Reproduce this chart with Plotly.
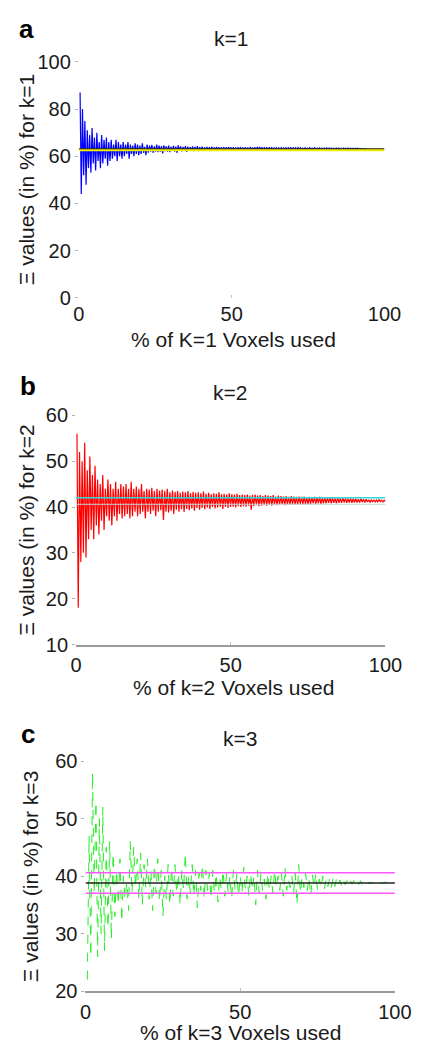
import numpy as np
import plotly.graph_objects as go

# ---------------- data ----------------
k1_values = [
    87, 44, 80, 52, 75, 48, 71, 55, 69, 53, 72, 57,
    68, 54, 70, 58, 66, 55, 69, 57, 67, 59, 68, 56,
    66, 58, 67, 59, 65, 60, 67, 58, 66, 60, 65, 59,
    66, 60, 65, 61, 66, 59, 65, 61, 64.5, 60, 65.5, 61,
    65, 60.5, 64.5, 61, 65.5, 61.5, 64, 60.5, 65, 61.5, 64.5, 62,
    64.8, 61.5, 64.2, 62, 65, 61.8, 64.5, 62, 64.3, 61.2, 64.6, 62.2,
    64.2, 62, 64.5, 61.8, 64, 62.3, 64.4, 62, 64.1, 61.5, 64.6, 62.3,
    64.2, 62.1, 64, 62.4, 64.3, 61.9, 64.1, 62.3, 63.9, 62.5, 64.2, 62.2,
    64, 62.4, 64.3, 62.2, 63.9, 62.5, 64.1, 62.3, 63.8, 62.6, 64, 62.4,
    63.9, 62.5, 64.1, 62.3, 63.8, 62.6, 64, 62.5, 63.9, 62.4, 63.8, 62.6,
    63.9, 62.6, 63.8, 62.5, 64, 62.7, 63.8, 62.6, 63.9, 62.5, 63.7, 62.7,
    63.8, 62.6, 63.9, 62.7, 63.7, 62.6, 63.8, 62.8, 63.7, 62.6, 63.9, 62.7,
    63.7, 62.8, 63.8, 62.7, 63.9, 62.8, 64, 62.7, 63.8, 62.8, 63.7, 62.9,
    63.8, 62.8, 63.7, 62.9, 63.8, 62.8, 63.6, 62.9, 63.7, 62.8, 63.6, 62.9,
    63.7, 62.9, 63.6, 62.8, 63.7, 62.9, 63.6, 63, 63.7, 62.9, 63.6, 63,
    63.6, 62.9, 63.7, 63, 63.6, 62.9, 63.5, 63, 63.6, 62.9, 63.5, 63,
    63.6, 63, 63.5, 62.9, 63.6, 63, 63.5, 63, 63.6, 63, 63.5, 63.1,
    63.5, 63, 63.6, 63.1, 63.5, 63, 63.5, 63.1, 63.4, 63, 63.5, 63.1,
    63.5, 63.1, 63.4, 63, 63.5, 63.1, 63.4, 63.1, 63.5, 63.1, 63.4, 63.1,
    63.4, 63.1, 63.4, 63.2, 63.4, 63.1, 63.3, 63.2, 63.4, 63.1, 63.3, 63.2,
]
k1_xrange = [0.4, 94]          # % of voxels spanned by the k=1 curve
k1_mean = 63.2                 # black reference
k1_ref = 62.7                  # yellow reference

k2_values = [
    56, 18, 52, 28, 50, 30, 54, 29, 48, 33, 51, 35,
    47, 33, 49, 36, 46, 34, 45, 37, 47, 35, 44, 38,
    46, 37, 45, 36, 44, 38, 45.5, 37, 44, 38.5, 45, 37.5,
    44.5, 38, 45, 38.5, 44, 37.5, 45.5, 38, 44, 39, 44.5, 38,
    44, 38.5, 45, 39, 43.5, 37.5, 44, 39, 43.8, 38.5, 44.2, 39.2,
    43.5, 38, 44, 39, 43.6, 39.3, 43.8, 37.2, 43.5, 39, 44, 38.8,
    43.2, 39.2, 43.6, 38.5, 43.3, 39.4, 43.5, 39, 43.1, 39.5, 43.4, 38.9,
    43.2, 39.6, 43.5, 39.3, 43, 39.7, 43.3, 39.2, 43.1, 39.8, 43.2, 39.4,
    43, 39.8, 43.4, 39.5, 42.9, 39.9, 43.1, 39.6, 42.8, 40, 43, 39.7,
    42.9, 39.9, 43.2, 40, 42.8, 39.6, 42.9, 40.1, 42.7, 39.8, 43, 40,
    42.8, 40.1, 42.7, 39.9, 42.9, 40.2, 42.6, 40, 42.7, 40.2, 42.6, 40.1,
    42.7, 40.3, 42.5, 39.4, 42.6, 40.2, 42.7, 40.4, 42.5, 40.2, 42.6, 40.3,
    42.4, 40.4, 42.6, 40.3, 42.5, 40.5, 42.4, 40.3, 42.6, 40.5, 42.3, 40.4,
    42.5, 40.5, 42.4, 40.6, 42.3, 40.4, 42.4, 40.6, 42.2, 40.5, 42.4, 40.6,
    42.3, 40.6, 42.2, 40.5, 42.3, 40.7, 42.2, 40.6, 42.3, 40.7, 42.1, 40.6,
    42.2, 40.7, 42.1, 40.8, 42.2, 40.7, 42.1, 40.8, 42.2, 40.7, 42.0, 40.8,
    42.1, 40.8, 42.0, 40.9, 42.1, 40.8, 42.0, 40.9, 41.9, 40.8, 42.0, 40.9,
    41.9, 40.9, 42.0, 41.0, 41.9, 40.9, 41.8, 41.0, 41.9, 40.9, 41.8, 41.0,
    41.8, 41.0, 41.7, 41.0, 41.8, 41.1, 41.7, 41.0, 41.7, 41.1, 41.6, 41.0,
    41.6, 41.1, 41.6, 41.1, 41.5, 41.1, 41.6, 41.2, 41.5, 41.1, 41.5, 41.2,
]
k2_xrange = [0.3, 100]
k2_upper = 42.0                # cyan reference
k2_lower = 40.6                # light reference

k3_values = [
    22, 47, 26, 58, 37, 53, 26, 50, 30, 52, 27, 45,
    31, 46, 29, 44, 33, 41, 35, 43, 32, 40, 36, 39,
    34, 46, 37, 45, 38, 43, 36, 44, 35, 42, 38, 43,
    36, 41, 34, 42, 37, 43, 35.5, 41, 33, 40, 36, 42,
    35, 41.5, 36.5, 42, 37, 40.5, 35, 41, 37.5, 44, 36, 40,
    37, 42, 36.5, 41, 34.5, 40.5, 37.5, 42, 36, 41, 37.5, 40.5,
    36, 41, 37, 40.5, 35.5, 40, 37.5, 41, 36.5, 40.5, 37, 40,
    36, 41, 37.5, 40.5, 36.5, 40, 37, 41.5, 37.5, 40, 36.5, 40.5,
    37.5, 40, 35, 41, 37, 40.5, 37.5, 39.5, 36, 40.5, 37.5, 40,
    37, 41, 38, 40, 37.5, 40.5, 36.5, 41.5, 37.5, 39.5, 38, 40,
    37, 40.5, 35, 42, 37, 40, 38, 40.5, 37.5, 39.8, 36.5, 40.2,
    38, 40.5, 37.5, 39.5, 38, 40, 37.8, 39.6, 38.2, 39.5, 38, 39.8,
    38.2, 39.5, 38.4, 39.3, 38.3, 39.4, 38.5, 39.2, 38.5, 39.3, 38.6, 39.2,
    38.6, 39.1, 38.5, 39.2, 38.6, 39.0, 38.7, 39.1, 38.6, 39.0, 38.7, 38.9,
    38.7, 39.0, 38.6, 38.9, 38.7, 39.0, 38.8, 38.9, 38.7, 38.9, 38.8, 38.9,
]
k3_xrange = [0.6, 100]
k3_mean = 38.8                 # black reference
k3_band = [40.6, 37.0]         # magenta references

x_ticks = [0, 50, 100]
y_ticks_a = [0, 20, 40, 60, 80, 100]
y_ticks_b = [10, 20, 30, 40, 50, 60]
y_ticks_c = [20, 30, 40, 50, 60]

panel_letters = ["a", "b", "c"]
panel_titles = ["k=1", "k=2", "k=3"]
x_titles = ["% of K=1 Voxels used", "% of k=2 Voxels used", "% of k=3 Voxels used"]
y_titles = ["Ξ values (in %) for k=1", "Ξ values (in %) for k=2", "Ξ values (in %) for k=3"]

# ---------------- figure ----------------
W, H = 428, 1055
FONT = "Liberation Sans, Arial, Helvetica, sans-serif"
TXT = "#1a1a1a"

def px_x(p):
    return p / W

def px_y(p):
    return 1 - p / H

fig = go.Figure()

def xs(vals, xr):
    return np.linspace(xr[0], xr[1], len(vals))

# panel a
fig.add_trace(go.Scatter(x=xs(k1_values, k1_xrange), y=k1_values, mode="lines",
                         line=dict(color="#0000ff", width=1.2), xaxis="x", yaxis="y"))
fig.add_trace(go.Scatter(x=[0, 100], y=[k1_ref, k1_ref], mode="lines",
                         line=dict(color="#f0f000", width=2.5), xaxis="x", yaxis="y"))
fig.add_trace(go.Scatter(x=[0, 100], y=[k1_mean, k1_mean], mode="lines",
                         line=dict(color="#202020", width=1.2), xaxis="x", yaxis="y"))

# panel b
fig.add_trace(go.Scatter(x=xs(k2_values, k2_xrange), y=k2_values, mode="lines",
                         line=dict(color="#ff0000", width=1.2), xaxis="x2", yaxis="y2"))
fig.add_trace(go.Scatter(x=[0, 100], y=[k2_lower, k2_lower], mode="lines",
                         line=dict(color="#bcd8d8", width=1), xaxis="x2", yaxis="y2"))
fig.add_trace(go.Scatter(x=[0, 100], y=[k2_upper, k2_upper], mode="lines",
                         line=dict(color="#30d8d8", width=1.5), xaxis="x2", yaxis="y2"))

# panel c
fig.add_trace(go.Scatter(x=xs(k3_values, k3_xrange), y=k3_values, mode="lines",
                         line=dict(color="#22ee22", width=1, dash="dash"), xaxis="x3", yaxis="y3"))
for v in k3_band:
    fig.add_trace(go.Scatter(x=[0, 100], y=[v, v], mode="lines",
                             line=dict(color="#ff55ff", width=1.5), xaxis="x3", yaxis="y3"))
fig.add_trace(go.Scatter(x=[0, 100], y=[k3_mean, k3_mean], mode="lines",
                         line=dict(color="#202020", width=1.5), xaxis="x3", yaxis="y3"))

# panel geometry in pixels: (left, right, top, bottom)
boxes = [(77, 400, 52, 293), (74, 401, 413, 647), (84, 411, 766, 1001)]
yranges = [[0, 100], [10, 60], [20, 60]]
yticks = [y_ticks_a, y_ticks_b, y_ticks_c]
show_base = [False, True, True]

tickfont = dict(family=FONT, size=20, color=TXT)
layout = dict(
    width=W, height=H, margin=dict(l=0, r=0, t=0, b=0),
    paper_bgcolor="white", plot_bgcolor="white", showlegend=False,
    font=dict(family=FONT, color=TXT),
)
for i, (l, r, t, b) in enumerate(boxes):
    sfx = "" if i == 0 else str(i + 1)
    layout["xaxis" + sfx] = dict(
        domain=[px_x(l), px_x(r)], range=[0, 100], tickvals=x_ticks,
        anchor="y" + sfx, showgrid=False, zeroline=False,
        showline=show_base[i], linecolor="#9a9a9a", linewidth=1.5,
        ticks="inside", ticklen=3, tickcolor="#c0c0c0", tickfont=tickfont,
        ticklabelstandoff=2,
    )
    layout["yaxis" + sfx] = dict(
        domain=[px_y(b), px_y(t)], range=yranges[i], tickvals=yticks[i],
        anchor="x" + sfx, showgrid=False, zeroline=False, showline=False,
        ticks="outside", ticklen=3, tickcolor="#b0b0b0", tickfont=tickfont,
    )
fig.update_layout(**layout)

# texts
letter_pos = [(22, 18), (23, 383), (23, 738)]
title_pos = [(238, 28), (237, 390), (247, 743)]
xt_pos = [(240, 336), (240, 691), (248, 1043)]
yt_pos = [(22, 172), (22, 530), (26, 884)]


def label(x, y, text, size=21, angle=0, color=TXT):
    fig.add_annotation(x=px_x(x), y=px_y(y), xref="paper", yref="paper",
                       xanchor="center", yanchor="middle", text=text, showarrow=False,
                       textangle=angle, font=dict(family=FONT, size=size, color=color))


for i in range(3):
    label(*letter_pos[i], "<b>%s</b>" % panel_letters[i], size=26, color="black")
    label(*title_pos[i], panel_titles[i])
    label(*xt_pos[i], x_titles[i])
    label(*yt_pos[i], y_titles[i], angle=-90)

fig.write_html("out.html")
